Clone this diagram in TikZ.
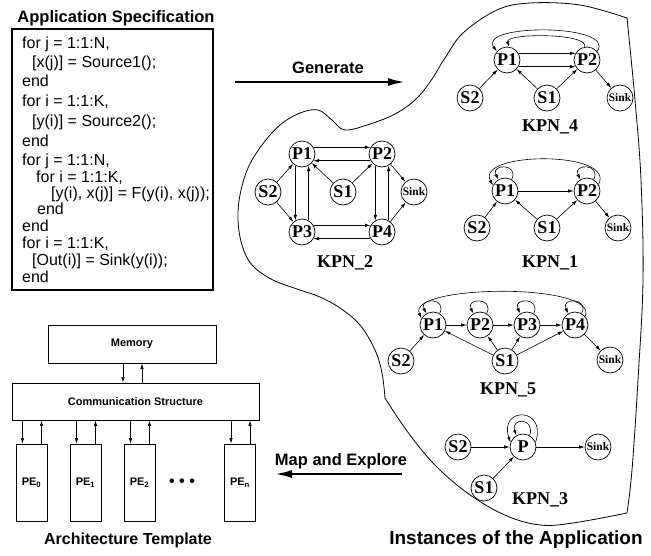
\documentclass[tikz,border=0pt]{standalone}
\usepackage{fontspec}
\setmainfont{Liberation Serif}
\setsansfont{Liberation Sans}
\usetikzlibrary{arrows.meta,positioning,calc}

\begin{document}
\begin{tikzpicture}[
  x=1pt, y=-1pt,
  kn/.style={circle, draw, line width=0.7pt, minimum size=26pt, inner sep=0pt, font=\fontsize{18}{18}\selectfont\bfseries},
  snk/.style={kn, font=\fontsize{11.5}{11.5}\selectfont\bfseries},
  kpn/.style={font=\fontsize{18}{18}\selectfont\bfseries},
  arr/.style={-{Latex[length=5.5pt,width=3.4pt]}, line width=0.6pt},
  big/.style={-{Latex[length=17pt,width=8pt]}, line width=2.2pt},
  blk/.style={draw, line width=0.8pt, font=\sffamily\bfseries\fontsize{11}{11}\selectfont},
  pe/.style={blk, minimum width=31pt, minimum height=77pt, inner sep=0pt},
  code/.style={anchor=base west, inner sep=0pt, font=\sffamily\fontsize{16}{16}\selectfont},
  head/.style={font=\sffamily\bfseries\fontsize{16.5}{16.5}\selectfont}
]
\useasboundingbox (0,0) rectangle (651,555);

% application specification
\node[head] (title) at (116,18) {Application Specification};
\node[draw, line width=1.1pt, minimum width=201pt, minimum height=261pt, inner sep=0pt] (spec) at (112.5,159.5) {};
\foreach \i/\x/\y/\t in {1/22/48/{for j = 1:1:N,}, 2/32/67/{[x(j)] = Source1();}, 3/22/86/{end},
  4/22/106/{for i = 1:1:K,}, 5/32/126/{[y(i)] = Source2();}, 6/22/146/{end},
  7/22/165/{for j = 1:1:N,}, 8/36/182/{for i = 1:1:K,}, 9/51/198.5/{[y(i), x(j)] = F(y(i), x(j));},
  10/37/214.5/{end}, 11/22/231/{end}, 12/22/248/{for i = 1:1:K,},
  13/32/265/{[Out(i)] = Sink(y(i));}, 14/22/282/{end}}
  \node[code] (c\i) at (\x,\y) {\t};

\coordinate (g0) at (235,82);
\coordinate (g1) at (405,82);
\draw[big] (g0) -- (g1);
\node[head] (gen) at (328,68) {Generate};

% instances
\draw[line width=0.8pt] plot[smooth, tension=0.6] coordinates {(385,398) (400,421) (420,448) (442,472) (473,497) (507,516) (540,525) (573,523) (627,513)}
  -- plot[smooth, tension=0.6] coordinates {(627,513) (632,470) (638,380) (643,280) (641,180) (635,100) (627,18)}
  -- plot[smooth, tension=0.6] coordinates {(627,18) (580,5) (530,3) (497,10) (463,33) (445,58) (430,82) (415,100) (395,114) (370,124) (345,130) (332,120) (318,110) (300,113) (280,125) (262,145) (248,168) (240,195) (238,220) (242,245) (252,265) (273,280) (300,290) (320,297) (340,308) (360,325) (375,350) (382,373) (385,398)};

\node[kn] (k4p1) at (507,60) {P1};
\node[kn] (k4p2) at (587,60) {P2};
\node[kn] (k4s2) at (470,98) {S2};
\node[kn] (k4s1) at (547,98) {S1};
\node[snk] (k4sk) at (620,98) {Sink};
\node[kpn] (k4) at (550,127) {KPN\_4};
\draw[arr] (k4p1.30) -- (k4p2.150);
\draw[arr] (k4p1.330) -- (k4p2.210);
\draw[arr] (k4s2) -- (k4p1);
\draw[arr] (k4s1) -- (k4p1);
\draw[arr] (k4s1) -- (k4p2);
\draw[arr] (k4p2) -- (k4sk);
\draw[arr] (k4p2.40) .. controls +(20,-28) and +(-20,-28) .. (k4p1.140);
\draw[arr] (k4p2.100) .. controls +(5,-14) and +(-5,-14) .. (k4p1.80);

\node[kn] (k2p1) at (302,154) {P1};
\node[kn] (k2p2) at (382,154) {P2};
\node[kn] (k2s2) at (268,192) {S2};
\node[kn] (k2s1) at (343,192) {S1};
\node[snk] (k2sk) at (414,192) {Sink};
\node[kn] (k2p3) at (302,232) {P3};
\node[kn] (k2p4) at (382,232) {P4};
\node[kpn] (k2) at (345,263) {KPN\_2};
\draw[arr] (k2p1.30) -- (k2p2.150);
\draw[arr] (k2p2.210) -- (k2p1.330);
\draw[arr] (k2p3.30) -- (k2p4.150);
\draw[arr] (k2p4.210) -- (k2p3.330);
\draw[arr] (k2p1.240) -- (k2p3.120);
\draw[arr] (k2p3.60) -- (k2p1.300);
\draw[arr] (k2p2.240) -- (k2p4.120);
\draw[arr] (k2p4.60) -- (k2p2.300);
\draw[arr] (k2s2) -- (k2p1);
\draw[arr] (k2s2) -- (k2p3);
\draw[arr] (k2s1) -- (k2p1);
\draw[arr] (k2s1) -- (k2p2);
\draw[arr] (k2p2) -- (k2sk);
\draw[arr] (k2p4) -- (k2sk);

\node[kn] (k1p1) at (505,191) {P1};
\node[kn] (k1p2) at (587,191) {P2};
\node[kn] (k1s2) at (477,228) {S2};
\node[kn] (k1s1) at (547,228) {S1};
\node[snk] (k1sk) at (618,228) {Sink};
\node[kpn] (k1) at (550,263) {KPN\_1};
\draw[arr] (k1p1) -- (k1p2);
\draw[arr] (k1s2) -- (k1p1);
\draw[arr] (k1s1) -- (k1p1);
\draw[arr] (k1s1) -- (k1p2);
\draw[arr] (k1p2) -- (k1sk);
\draw[arr] (k1p2.30) .. controls +(18,-34) and +(-18,-34) .. (k1p1.155);

\node[kn] (k5p1) at (433,325) {P1};
\node[kn] (k5p2) at (480,325) {P2};
\node[kn] (k5p3) at (527,325) {P3};
\node[kn] (k5p4) at (575,325) {P4};
\node[kn] (k5s2) at (401,361) {S2};
\node[kn] (k5s1) at (505,361) {S1};
\node[snk] (k5sk) at (610,360) {Sink};
\node[kpn] (k5) at (508,390) {KPN\_5};
\draw[arr] (k5p1) -- (k5p2);
\draw[arr] (k5p2) -- (k5p3);
\draw[arr] (k5p3) -- (k5p4);
\draw[arr] (k5s2) -- (k5p1);
\draw[arr] (k5s1) -- (k5p1);
\draw[arr] (k5s1) -- (k5p2);
\draw[arr] (k5s1) -- (k5p3);
\draw[arr] (k5s1) -- (k5p4);
\draw[arr] (k5p4) -- (k5sk);
\draw[arr] (k5p4.40) .. controls +(15,-34) and +(-15,-34) .. (k5p1.150);

\foreach \n in {k1p1,k1p2,k5p1,k5p2,k5p3,k5p4}
  \draw[arr] (\n.60) .. controls +(8,-16) and +(-8,-16) .. (\n.120);

\node[kn] (k3s2) at (458,447) {S2};
\node[kn] (k3p) at (523,447) {P};
\node[snk] (k3sk) at (598,447) {Sink};
\node[kn] (k3s1) at (484,488) {S1};
\node[kpn] (k3) at (540,500) {KPN\_3};
\draw[arr] (k3s2) -- (k3p);
\draw[arr] (k3s1) -- (k3p);
\draw[arr] (k3p) -- (k3sk);
\draw[arr] (k3p.20) .. controls +(12,-36) and +(-12,-36) .. (k3p.160);
\draw[arr] (k3p.60) .. controls +(6,-18) and +(-6,-18) .. (k3p.120);

\node[font=\sffamily\bfseries\fontsize{19}{19}\selectfont] (inst) at (516,540) {Instances of the Application};

\coordinate (m0) at (402,474);
\coordinate (m1) at (275,474);
\draw[big] (m0) -- (m1);
\node[head] (map) at (341,461) {Map and Explore};

% architecture template
\node[blk, minimum width=168pt, minimum height=38pt] (mem) at (132,344) {Memory};
\node[blk, minimum width=247pt, minimum height=37pt] (comm) at (135.5,401.5) {Communication Structure};
\node[pe] (pe0) at (31.5,482.5) {PE\textsubscript{0}};
\node[pe] (pe1) at (85.5,482.5) {PE\textsubscript{1}};
\node[pe] (pe2) at (139.5,482.5) {PE\textsubscript{2}};
\node[pe] (pen) at (240,482.5) {PE\textsubscript{n}};
\node[font=\sffamily\bfseries\fontsize{16}{16}\selectfont] (dots) at (182,483) {\textbullet\hspace{4.5pt}\textbullet\hspace{4.5pt}\textbullet};
\draw[arr] ([xshift=-9pt]mem.south) -- ([xshift=-9pt]mem.south |- comm.north);
\draw[arr] ([xshift=10pt]mem.south |- comm.north) -- ([xshift=10pt]mem.south);
\foreach \p in {pe0,pe1,pe2,pen} {
  \draw[arr] ([xshift=-9pt]\p.north |- comm.south) -- ([xshift=-9pt]\p.north);
  \draw[arr] ([xshift=10pt]\p.north) -- ([xshift=10pt]\p.north |- comm.south);
}
\node[font=\sffamily\bfseries\fontsize{16}{16}\selectfont] (arch) at (128,540) {Architecture Template};
\end{tikzpicture}
\end{document}
